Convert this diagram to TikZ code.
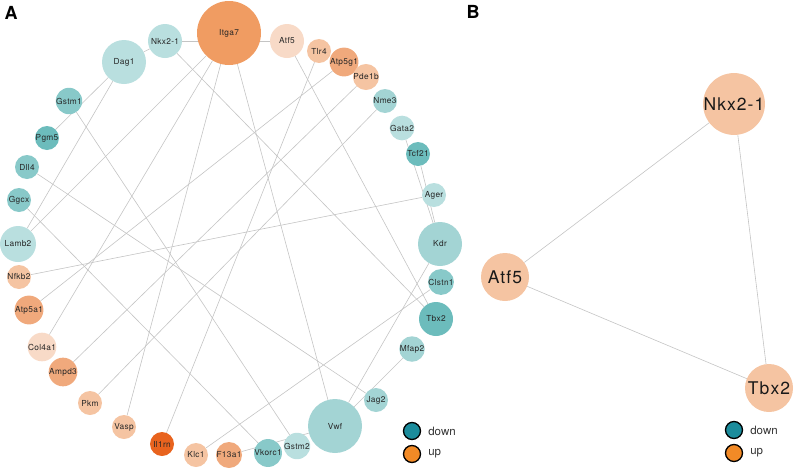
\documentclass[tikz,border=0pt]{standalone}
\usepackage{fontspec}
\setmainfont{TeX Gyre Heros}
\usetikzlibrary{backgrounds,positioning}
\definecolor{dnA}{HTML}{B9DFDF}
\definecolor{dnB}{HTML}{A3D4D4}
\definecolor{dnC}{HTML}{88C9C9}
\definecolor{dnD}{HTML}{6CBCBC}
\definecolor{upA}{HTML}{F8DAC7}
\definecolor{upB}{HTML}{F5C4A2}
\definecolor{upC}{HTML}{F0A97C}
\definecolor{upD}{HTML}{F09C62}
\definecolor{upE}{HTML}{E8631E}
\definecolor{legdown}{HTML}{1B8C9C}
\definecolor{legup}{HTML}{F28A26}
\definecolor{edgegray}{HTML}{C4C4C4}

\begin{document}
\begin{tikzpicture}[x=1pt,y=-1pt,
    gene/.style={circle,inner sep=0pt,text=black!85,font=\fontsize{8.3}{9}\selectfont\addfontfeatures{LetterSpace=4}},
    bgene/.style={circle,inner sep=0pt,fill=upB,minimum size=48pt,text=black!90,font=\fontsize{17.5}{18}\selectfont\addfontfeatures{LetterSpace=6}},
    ppi/.style={draw=edgegray,line width=0.6pt},
    legdot/.style={circle,draw=black,line width=1.3pt,minimum size=17pt,inner sep=0pt},
    legtext/.style={font=\fontsize{11.5}{12}\selectfont,text=black!80,inner sep=0pt}]
    \useasboundingbox (0,0) rectangle (796,469);

    % panel A: ring of genes
    \node[gene,fill=upD,minimum size=64pt] (itga7) at (229,33) {Itga7};
    \node[gene,fill=dnA,minimum size=34pt] (nkx) at (165,41) {Nkx2-1};
    \node[gene,fill=dnA,minimum size=44pt] (dag1) at (124,62) {Dag1};
    \node[gene,fill=upA,minimum size=34pt] (atf5) at (287,41) {Atf5};
    \node[gene,fill=upB,minimum size=24pt] (tlr4) at (319,51) {Tlr4};
    \node[gene,fill=upC,minimum size=24pt] (atp5g1) at (344,62) {Atp5g1};
    \node[gene,fill=upB,minimum size=24pt] (pde1b) at (366,77) {Pde1b};
    \node[gene,fill=dnB,minimum size=24pt] (nme3) at (385,101) {Nme3};
    \node[gene,fill=dnA,minimum size=24pt] (gata2) at (402,128) {Gata2};
    \node[gene,fill=dnD,minimum size=24pt] (tcf21) at (418,154) {Tcf21};
    \node[gene,fill=dnA,minimum size=24pt] (ager) at (434,195) {Ager};
    \node[gene,fill=dnB,minimum size=44pt] (kdr) at (440,244) {Kdr};
    \node[gene,fill=dnC,minimum size=24pt] (clstn1) at (441,282) {Clstn1};
    \node[gene,fill=dnD,minimum size=34pt] (tbx2) at (436,319) {Tbx2};
    \node[gene,fill=dnB,minimum size=24pt] (mfap2) at (412,349) {Mfap2};
    \node[gene,fill=dnB,minimum size=24pt] (jag2) at (376,400) {Jag2};
    \node[gene,fill=dnB,minimum size=54pt] (vwf) at (335,426) {Vwf};
    \node[gene,fill=dnA,minimum size=26pt] (gstm2) at (297,446) {Gstm2};
    \node[gene,fill=dnC,minimum size=24pt] (vkorc1) at (268,453) {Vkorc1};
    \node[gene,fill=upC,minimum size=26pt] (f13a1) at (229,455) {F13a1};
    \node[gene,fill=upB,minimum size=24pt] (klc1) at (196,455) {Klc1};
    \node[gene,fill=upE,minimum size=24pt] (il1rn) at (162,444) {Il1rn};
    \node[gene,fill=upB,minimum size=24pt] (vasp) at (124,427) {Vasp};
    \node[gene,fill=upB,minimum size=24pt] (pkm) at (90,403) {Pkm};
    \node[gene,fill=upC,minimum size=24pt] (ampd3) at (63,372) {Ampd3};
    \node[gene,fill=upA,minimum size=24pt] (col4a1) at (42,347) {Col4a1};
    \node[gene,fill=upC,minimum size=26pt] (atp5a1) at (29,310) {Atp5a1};
    \node[gene,fill=upB,minimum size=24pt] (nfkb2) at (19,277) {Nfkb2};
    \node[gene,fill=dnA,minimum size=36pt] (lamb2) at (18,244) {Lamb2};
    \node[gene,fill=dnC,minimum size=24pt] (ggcx) at (19,200) {Ggcx};
    \node[gene,fill=dnC,minimum size=24pt] (dll4) at (27,167) {Dll4};
    \node[gene,fill=dnD,minimum size=24pt] (pgm5) at (47,138) {Pgm5};
    \node[gene,fill=dnC,minimum size=24pt] (gstm1) at (69,101) {Gstm1};

    % panel B: the three hubs
    \node[bgene] (bnkx) at (734,104) {Nkx2-1};
    \node[bgene] (batf) at (505,277) {Atf5};
    \node[bgene] (btbx) at (769,388) {Tbx2};

    % interactions
    \begin{scope}[on background layer]
        \draw[ppi] (dag1) -- (nkx);
        \draw[ppi] (nkx) -- (atf5);
        \draw[ppi] (nkx) -- (tbx2);
        \draw[ppi] (atf5) -- (tbx2);
        \draw[ppi] (dag1) -- (pgm5);
        \draw[ppi] (dag1) -- (lamb2);
        \draw[ppi] (itga7) -- (lamb2);
        \draw[ppi] (itga7) -- (col4a1);
        \draw[ppi] (itga7) -- (vasp);
        \draw[ppi] (itga7) -- (vwf);
        \draw[ppi] (gstm1) -- (gstm2);
        \draw[ppi] (dll4) -- (jag2);
        \draw[ppi] (ggcx) -- (vkorc1);
        \draw[ppi] (nfkb2) -- (ager);
        \draw[ppi] (atp5a1) -- (atp5g1);
        \draw[ppi] (ampd3) -- (pde1b);
        \draw[ppi] (pkm) -- (nme3);
        \draw[ppi] (il1rn) -- (tlr4);
        \draw[ppi] (klc1) -- (clstn1);
        \draw[ppi] (f13a1) -- (vwf);
        \draw[ppi] (vwf) -- (kdr);
        \draw[ppi] (mfap2) -- (vwf);
        \draw[ppi] (gata2) -- (kdr);
        \draw[ppi] (tcf21) -- (kdr);
        \draw[ppi] (bnkx) -- (batf);
        \draw[ppi] (batf) -- (btbx);
        \draw[ppi] (bnkx) -- (btbx);
    \end{scope}

    % legends
    \node[legdot,fill=legdown] (adown) at (412,431) {};
    \node[legdot,fill=legup] (aup) at (412,454) {};
    \node[legtext,right=7pt of adown] (adowntxt) {down};
    \node[legtext,right=7pt of aup] (auptxt) {up};
    \node[legdot,fill=legdown] (bdown) at (734,430) {};
    \node[legdot,fill=legup] (bup) at (734,453) {};
    \node[legtext,right=7pt of bdown] (bdowntxt) {down};
    \node[legtext,right=7pt of bup] (buptxt) {up};

    % panel letters
    \node[font=\fontsize{18}{19}\selectfont\bfseries] (labA) at (11,13) {A};
    \node[font=\fontsize{18}{19}\selectfont\bfseries] (labB) at (473,12) {B};
\end{tikzpicture}
\end{document}
